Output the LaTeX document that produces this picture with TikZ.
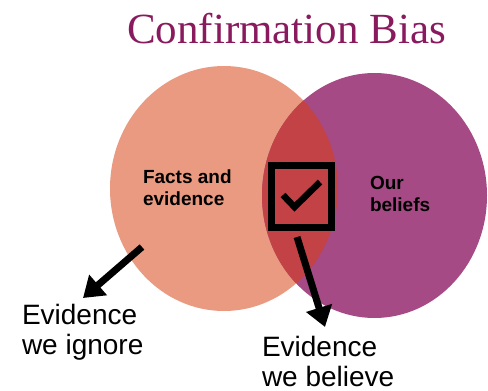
\documentclass[tikz,border=0pt]{standalone}
\usepackage{fontspec}
\setmainfont{Liberation Serif}
\newfontfamily\arialfont{Liberation Sans}
\usetikzlibrary{arrows.meta}

\definecolor{factsfill}{HTML}{EA9A80}
\definecolor{beliefsfill}{HTML}{A54A84}
\definecolor{overlapfill}{HTML}{C24246}
\definecolor{titlecol}{HTML}{8A1A5E}

\tikzset{
  label/.style={inner sep=0pt, outer sep=0pt, align=left, text=black},
  innerlabel/.style={label, font=\arialfont\bfseries\fontsize{19}{22}\selectfont},
  outerlabel/.style={label, font=\arialfont\fontsize{28}{30}\selectfont},
  bigarrow/.style={line width=7pt, -{Triangle[length=20pt, width=26pt]}},
  boxline/.style={line width=7pt, draw=black},
  tick/.style={line width=6.5pt, draw=black, line cap=butt, line join=miter}
}

\begin{document}
\begin{tikzpicture}[x=1pt, y=-1pt]
  \useasboundingbox (0,0) rectangle (488,391);

  % title
  \node[inner sep=0pt, anchor=base, text=titlecol,
        font=\fontsize{43}{46}\selectfont] (title) at (286.5,43) {Confirmation Bias};

  % the two sets and their overlap
  \coordinate (factsC) at (224,188.5);
  \coordinate (beliefsC) at (374.5,195.5);
  \fill[factsfill] (factsC) ellipse [x radius=114, y radius=122.5];
  \fill[beliefsfill] (beliefsC) ellipse [x radius=112.5, y radius=122.5];
  \begin{scope}
    \clip (factsC) ellipse [x radius=114, y radius=122.5];
    \fill[overlapfill] (beliefsC) ellipse [x radius=112.5, y radius=122.5];
  \end{scope}

  % check box in the overlap
  \draw[boxline] (271.5,165.5) rectangle (331.5,227.5);
  \coordinate (tickA) at (283,195);
  \coordinate (tickB) at (294.5,207);
  \coordinate (tickC) at (320,182);
  \draw[tick] (tickA) -- (tickB) -- (tickC);

  % set labels
  \node[innerlabel, anchor=north west] (facts) at (143,169.5) {Facts and\\evidence};
  \node[innerlabel, anchor=north west] (beliefs) at (370,176.5) {Our\\beliefs};

  % outcome labels
  \node[outerlabel, anchor=north west] (ignore) at (22,304) {Evidence\\we ignore};
  \node[outerlabel, anchor=north west] (believe) at (262,336) {Evidence\\we believe};

  % arrows
  \coordinate (ignStart) at (142,247);
  \coordinate (ignTip) at (83,298);
  \coordinate (belStart) at (297,237);
  \coordinate (belTip) at (325,327);
  \draw[bigarrow] (ignStart) -- (ignTip);
  \draw[bigarrow] (belStart) -- (belTip);
\end{tikzpicture}
\end{document}
